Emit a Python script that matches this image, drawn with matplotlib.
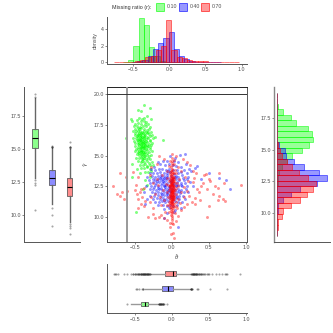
import matplotlib
matplotlib.use("Agg")
import matplotlib.pyplot as plt
from matplotlib.patches import Rectangle

plt.rcParams['font.family'] = ['Liberation Sans', 'DejaVu Sans']
plt.rcParams['mathtext.fontset'] = 'dejavusans'

W = 333
GREEN, BLUE, RED = '#00FF00', '#0000FF', '#FF0000'
TXT = '#4d4d4d'

ratio_labels = ['0.10', '0.40', '0.70']

# Scatter points (theta-hat, gamma-hat)
green_points = [
(-.37,19.14),(-.29,18.87),(-.46,18.68),(-.42,18.6),(-.55,18.0),(-.54,17.8),(-.28,17.95),(-.34,18.2),(-.62,16.45),(-.12,16.3),
(-.22,16.5),(-.54,14.3),(-.44,18.1),(-.40,18.0),(-.37,18.05),(-.47,17.9),(-.42,17.8),(-.38,17.85),(-.35,17.75),(-.49,17.6),
(-.45,17.65),(-.41,17.6),(-.36,17.55),(-.32,17.6),(-.51,17.4),(-.47,17.45),(-.43,17.35),(-.39,17.45),(-.35,17.4),(-.30,17.3),
(-.50,17.2),(-.46,17.25),(-.44,17.15),(-.41,17.22),(-.38,17.18),(-.34,17.1),(-.31,17.15),(-.52,17.0),(-.48,17.05),(-.45,16.98),
(-.43,17.02),(-.40,16.96),(-.37,17.04),(-.35,16.95),(-.32,16.9),(-.28,16.95),(-.49,16.85),(-.46,16.8),(-.44,16.88),(-.42,16.78),
(-.39,16.84),(-.37,16.76),(-.34,16.82),(-.31,16.74),(-.27,16.7),(-.50,16.65),(-.47,16.6),(-.45,16.68),(-.43,16.56),(-.41,16.64),
(-.38,16.58),(-.36,16.66),(-.33,16.54),(-.30,16.6),(-.26,16.45),(-.52,16.45),(-.48,16.4),(-.46,16.48),(-.44,16.36),(-.42,16.44),
(-.40,16.38),(-.37,16.46),(-.35,16.34),(-.32,16.42),(-.29,16.3),(-.51,16.2),(-.47,16.24),(-.45,16.14),(-.43,16.26),(-.41,16.16),
(-.39,16.22),(-.37,16.12),(-.35,16.2),(-.33,16.1),(-.30,16.18),(-.27,16.05),(-.50,16.0),(-.46,15.96),(-.44,16.04),(-.42,15.92),
(-.40,16.0),(-.38,15.94),(-.36,16.02),(-.34,15.9),(-.31,15.98),(-.28,15.88),(-.49,15.8),(-.46,15.74),(-.44,15.84),(-.42,15.72),
(-.40,15.8),(-.38,15.7),(-.36,15.82),(-.34,15.74),(-.32,15.8),(-.29,15.68),(-.48,15.58),(-.45,15.52),(-.43,15.62),(-.41,15.5),
(-.39,15.6),(-.37,15.48),(-.35,15.56),(-.33,15.46),(-.30,15.54),(-.27,15.42),(-.50,15.36),(-.46,15.3),(-.44,15.4),(-.42,15.26),
(-.40,15.36),(-.38,15.24),(-.36,15.32),(-.34,15.22),(-.31,15.3),(-.47,15.1),(-.44,15.04),(-.42,15.14),(-.40,15.0),(-.38,15.1),
(-.36,14.98),(-.34,15.08),(-.31,14.96),(-.28,15.02),(-.48,14.84),(-.44,14.78),(-.41,14.88),(-.39,14.74),(-.37,14.84),(-.35,14.72),
(-.32,14.8),(-.29,14.7),(-.46,14.56),(-.42,14.5),(-.40,14.6),(-.37,14.46),(-.34,14.54),(-.31,14.44),(-.27,14.5),(-.43,14.28),
(-.39,14.22),(-.36,14.3),(-.33,14.18),(-.30,14.24),(-.25,14.2),(-.41,14.02),(-.37,13.96),(-.34,14.04),(-.30,13.92),(-.47,13.9),
(-.36,13.7),(-.32,13.65),(-.28,13.74),(-.43,13.6),(-.54,13.3),(-.36,13.0),(-.34,12.6),(-.385,12.25),(-.30,13.3),(-.485,10.4),
(-.40,16.5),(-.42,16.1),(-.39,15.75),(-.41,15.4),(-.43,16.7),(-.38,16.3),(-.40,15.15),(-.37,15.65),(-.44,15.25),(-.41,16.85),
(-.39,16.05),(-.42,15.6),(-.36,15.9),(-.40,14.75),(-.38,16.55),(-.43,16.3),(-.41,15.85),(-.45,16.3),(-.39,15.3),(-.37,14.95),
]
blue_points = [
(.18,15.1),(.11,15.05),(.04,14.85),(-.03,14.95),(.09,14.5),(.03,14.55),(.19,14.35),(.34,14.15),(.31,14.0),(.26,13.75),
(.23,13.95),(-.07,14.6),(-.12,14.55),(-.16,14.3),(-.19,14.45),(-.24,14.1),(-.09,14.25),(-.04,14.3),(.01,14.2),(.06,14.15),
(.12,14.05),(.17,13.85),(-.28,13.9),(-.22,13.85),(-.17,13.95),(-.13,13.9),(-.08,13.85),(-.04,13.95),(.02,13.8),(.07,13.85),
(.13,13.7),(.20,13.55),(-.30,13.55),(-.25,13.6),(-.2,13.55),(-.16,13.65),(-.11,13.6),(-.07,13.55),(-.03,13.65),(.03,13.5),
(.08,13.6),(.14,13.45),(.22,13.3),(-.33,13.3),(-.27,13.35),(-.23,13.25),(-.18,13.35),(-.14,13.25),(-.1,13.35),(-.06,13.25),
(-.01,13.35),(.04,13.25),(.09,13.3),(.15,13.2),(.2,13.1),(-.31,13.05),(-.26,13.1),(-.22,13.0),(-.19,13.1),(-.15,13.0),
(-.12,13.1),(-.08,13.0),(-.04,13.1),(.0,13.0),(.05,13.08),(.1,12.98),(.16,13.02),(.24,12.85),(-.3,12.8),(-.25,12.85),
(-.21,12.75),(-.17,12.85),(-.13,12.75),(-.1,12.85),(-.06,12.75),(-.02,12.85),(.03,12.75),(.07,12.85),(.12,12.75),(.18,12.8),
(-.35,12.55),(-.28,12.55),(-.23,12.6),(-.19,12.5),(-.15,12.6),(-.11,12.5),(-.08,12.6),(-.04,12.5),(.01,12.6),(.05,12.5),
(.09,12.6),(.14,12.5),(.2,12.55),(.29,12.5),(-.3,12.25),(-.25,12.3),(-.21,12.2),(-.17,12.3),(-.13,12.2),(-.09,12.3),
(-.05,12.2),(-.01,12.3),(.04,12.2),(.08,12.3),(.13,12.22),(.19,12.3),(-.37,12.0),(-.27,12.0),(-.22,11.95),(-.18,12.05),
(-.14,11.95),(-.1,12.05),(-.06,11.95),(-.02,12.05),(.03,11.95),(.07,12.05),(.11,11.95),(.16,12.0),(.22,12.05),(-.3,11.75),
(-.24,11.7),(-.19,11.8),(-.15,11.7),(-.11,11.8),(-.07,11.7),(-.03,11.8),(.02,11.7),(.06,11.8),(.1,11.7),(.15,11.75),
(-.34,11.5),(-.26,11.5),(-.2,11.55),(-.16,11.45),(-.12,11.55),(-.08,11.45),(-.04,11.55),(.01,11.45),(.05,11.55),(.1,11.45),
(.18,11.5),(-.36,11.1),(-.22,11.25),(-.17,11.2),(-.13,11.3),(-.09,11.2),(-.05,11.3),(.0,11.2),(.04,11.3),(.09,11.2),
(.14,11.25),(-.18,10.95),(-.12,11.0),(-.07,10.9),(-.03,11.0),(.02,10.9),(.07,11.0),(.12,10.75),(-.1,10.65),(-.04,10.7),
(.04,10.6),(-.11,9.95),(.08,9.2),(-.06,10.35),(.03,10.45),(.78,12.3),(.63,13.2),(.5,13.6),(.4,13.1),(.73,13.0),
(-.11,13.15),(-.06,13.4),(-.01,12.95),(-.15,12.4),(-.1,12.65),(-.05,12.4),(.0,12.7),(-.07,12.1),(-.02,12.45),(-.12,12.95),
(-.18,12.35),(-.08,13.15),(-.03,12.15),(.02,12.35),(-.13,11.85),(-.09,12.45),(-.06,11.85),(.05,12.65),(.02,13.2),(-.16,13.15),
(-.2,12.95),(-.14,13.45),(-.05,13.75),(.06,13.35),(-.24,12.45),(.1,12.1),(.12,12.65),(-.01,11.6),(-.11,11.4),(.07,11.6),
]
red_points = [
(-.7,13.55),(-.79,12.55),(-.74,11.9),(-.67,12.05),(-.7,11.75),(-.65,11.5),(-.6,12.15),(-.62,13.3),(-.52,13.7),(-.48,12.6),
(-.46,13.25),(-.42,12.3),(-.5,12.2),(-.38,12.4),(-.43,12.0),(-.47,11.85),(-.4,11.6),(-.45,11.5),(-.36,11.3),(-.42,11.1),
(-.38,10.9),(-.45,10.7),(-.28,11.6),(-.3,11.2),(-.26,10.7),(-.25,10.25),(-.32,10.0),(-.17,10.0),(-.14,10.2),(-.09,10.45),
(-.22,9.9),(-.06,9.75),(-.1,9.9),(-.03,9.55),(-.02,9.15),(.02,8.7),(.03,8.3),(-.01,8.6),(.02,9.4),(.05,9.7),
(.08,10.1),(.13,10.55),(.16,10.8),(.21,11.05),(.27,11.2),(.31,11.05),(.38,11.35),(.48,10.0),(.5,10.9),(.62,11.35),
(.72,11.3),(.69,11.45),(.64,11.7),(.55,11.9),(.47,12.25),(.93,12.6),(.71,12.75),(.62,12.35),(.58,12.5),(.52,12.95),
(.5,13.1),(.46,13.5),(.63,13.6),(.43,13.4),(.42,12.75),(.39,12.5),(.36,12.0),(.31,11.55),(.34,12.25),(.28,12.85),
(.3,13.2),(.33,13.55),(.28,13.75),(.24,14.2),(.21,14.45),(.15,14.7),(.06,15.0),(.03,14.65),(-.1,14.75),(-.17,15.0),
(-.2,14.3),(-.28,14.1),(-.3,13.4),(-.2,13.1),(-.26,12.8),(-.18,12.6),(-.22,11.85),(-.16,11.6),(-.14,11.0),(-.1,11.35),
(-.06,10.95),(-.12,12.2),(-.08,12.7),(-.13,13.4),(-.07,13.75),(-.04,14.15),(-.02,14.55),(.08,14.1),(.13,13.75),(.18,13.3),
(.22,12.9),(.16,12.45),(.2,12.1),(.12,12.0),(.17,11.6),(.11,11.15),(.23,11.75),(.08,11.5),(.07,12.8),(.1,13.1),
(.06,13.55),(.05,12.35),(.09,12.55),(.06,11.85),(.05,10.9),(.04,10.35),(-.04,10.4),(.07,10.7),(-.05,11.6),(-.07,12.05),
(-.05,12.6),(-.06,13.15),(-.03,13.5),(.04,13.85),(.03,14.3),(.05,11.2),(-.04,11.25),(-.03,12.35),(.04,12.75),(-.04,12.95),
(.0,15.1),(.0,14.8),(.004,14.6),(-.004,14.4),(.006,14.25),(-.006,14.1),(.0,13.95),(.008,13.85),(-.008,13.75),(.002,13.65),
(.01,13.55),(-.01,13.45),(.0,13.38),(.012,13.3),(-.012,13.22),(.004,13.15),(.014,13.08),(-.014,13.0),(.0,12.93),(.016,12.86),
(-.016,12.8),(.006,12.74),(-.006,12.68),(.018,12.62),(-.018,12.56),(.0,12.5),(.012,12.44),(-.012,12.38),(.02,12.33),(-.02,12.27),
(.004,12.22),(-.004,12.16),(.016,12.1),(-.016,12.05),(.008,12.0),(-.008,11.94),(.02,11.88),(-.02,11.83),(.0,11.78),(.012,11.72),
(-.012,11.67),(.018,11.62),(-.018,11.56),(.004,11.5),(-.004,11.44),(.014,11.38),(-.014,11.32),(.008,11.26),(-.008,11.2),(.016,11.13),
(-.016,11.06),(.0,11.0),(.012,10.92),(-.012,10.84),(.006,10.76),(-.006,10.68),(.01,10.6),(-.01,10.5),(.0,10.4),(.008,10.3),
(-.008,10.18),(.004,10.05),(-.004,9.9),(.006,9.72),(.0,9.5),(.03,13.1),(-.03,13.05),(.03,12.5),(-.03,12.65),(.03,12.0),
(-.03,11.9),(.03,11.45),(-.03,11.4),(.03,10.85),(-.03,10.8),(.035,13.3),(-.035,12.2),(.035,11.7),(-.035,11.0),(.04,12.2),
(.025,12.3),(-.025,12.5),(.025,12.9),(-.025,11.7),(.025,11.6),(-.025,13.3),(.025,11.1),(-.025,11.15),(.025,13.6),(-.025,13.7),
(.0,12.05),(.0,12.3),(.0,12.65),(.0,11.9),(.0,11.6),(.0,11.3),(.0,12.8),(.0,13.1),(.0,11.1),(.0,13.5),
(.01,12.2),(-.01,12.1),(.01,11.85),(-.01,11.75),(.01,12.55),(-.01,12.6),(.01,11.45),(-.01,11.5),(.01,12.9),(-.01,12.85),
]

# Histograms (density per bin)
top_green = [.02,.3,2.0,5.4,4.5,1.8,.8,.2,.06,.02,.01]
top_blue = [.08,.12,.25,.8,1.6,2.3,3.0,3.65,1.6,.75,.4,.2,.1,.06,.03,.03,.02]
top_red = [.02,.02,.04,.08,.2,.3,.7,.8,1.5,2.0,5.15,1.55,.65,.5,.3,.2,.13,.2,.08,.08,.02,.02,.02,.02]
top_starts = [-.640, -.516, -.765]
top_width = .0723

right_green = [0,0,0,0,0,.004,0,0,0,.01,.02,.03,.06,.12,.18,.3,.38,.43,.415,.37,.225,.165,.07,.012,.004,0]
right_blue = [0,0,0,.004,.01,.02,.07,.165,.27,.48,.6,.5,.32,.2,.11,.1,.025,.004,0,0,0,0,0,0,0,0]
right_red = [.004,.01,.02,.06,.07,.17,.28,.36,.435,.465,.37,.26,.18,.12,.06,.04,.012,.004,.004,.004,.004,.004,.004,.004,.004,.004]
right_start = 8.23
right_width = .432

# Boxplot summaries
box_y = [
 dict(q1=15.05, med=15.82, q3=16.52, whislo=12.8, whishi=18.8, fliers=[19.1,18.9,12.65,12.4,12.3,10.4]),
 dict(q1=12.25, med=12.8, q3=13.4, whislo=10.85, whishi=15.05, fliers=[15.15,15.1,15.12,15.18,10.5,9.98,9.2]),
 dict(q1=11.43, med=12.15, q3=12.8, whislo=9.5, whishi=15.0, fliers=[15.05,15.1,15.12,15.15,15.5,9.3,9.2,9.0,8.55]),
]
box_x = [
 dict(q1=-.41, med=-.36, q3=-.317, whislo=-.545, whishi=-.18,
      fliers=[-.605,-.178,-.175,-.17,-.165,-.16,-.155,-.15,-.145,-.14,-.135,-.13,-.125,-.12,-.115,-.11,-.06]),
 dict(q1=-.134, med=-.05, q3=.022, whislo=-.36, whishi=.25,
      fliers=[-.48,-.47,-.44,-.40,-.39,-.385,.255,.26,.262,.265,.268,.27,.34,.35,.52,.75]),
 dict(q1=-.09, med=.01, q3=.058, whislo=-.285, whishi=.26,
      fliers=[-.78,-.76,-.75,-.72,-.64,-.6,-.55,-.53,-.52,-.5,-.49,-.48,-.47,-.46,-.45,-.445,-.44,-.43,-.42,-.415,-.41,-.405,-.4,-.395,
              -.39,-.385,-.38,-.375,-.37,-.365,-.36,-.355,-.35,-.345,-.34,-.335,-.33,-.325,-.32,-.315,-.31,-.305,-.3,-.295,
              .265,.27,.275,.28,.285,.29,.295,.3,.305,.31,.315,.32,.325,.33,.335,.34,.35,.36,.37,.38,.39,.4,.41,.42,.44,.45,.47,.49,.5,.54,.6,.63,.68,.72,.73,.74,.92]),
]


def make_axes(fig, left, top, right, bottom):
    return fig.add_axes([left / W, 1 - bottom / W, (right - left) / W, (bottom - top) / W])


def style(ax, sides=('left', 'bottom')):
    for s, sp in ax.spines.items():
        sp.set_visible(s in sides)
        sp.set_color('#555555')
        sp.set_linewidth(.7)
    ax.tick_params(length=1.5, width=.4, color='#333333', labelsize=3.8, labelcolor=TXT, pad=1)


def boxes(ax, stats, vert, whisker_color):
    colors = [GREEN, BLUE, RED]
    art = ax.bxp(stats, positions=[0, 1, 2], widths=.32, vert=vert, patch_artist=True, showcaps=False,
                 medianprops=dict(color='black', lw=.8),
                 boxprops=dict(edgecolor='#444444', lw=.5),
                 whiskerprops=dict(color=whisker_color, lw=1.0),
                 flierprops=dict(marker='o', ms=1.5, mfc='#222222', mec='none', alpha=.4),
                 manage_ticks=False)
    for p, c in zip(art['boxes'], colors):
        p.set_facecolor(matplotlib.colors.to_rgba(c, .45))


fig = plt.figure(figsize=(W / 100, W / 100), dpi=100)

# Main scatter
ax = make_axes(fig, 107.3, 87.3, 246.7, 241.7)
for pts, c, a in zip([green_points, blue_points, red_points], [GREEN, BLUE, RED], [.5, .42, .42]):
    ax.scatter([p[0] for p in pts], [p[1] for p in pts], s=4.6, c=c, alpha=a, linewidths=0, zorder=2)
ax.axvline(-.607, color='#999999', lw=1.4, zorder=3)
ax.axhline(20, color='#333333', lw=.7, zorder=3)
ax.set_xlim(-.87, 1.01)
ax.set_ylim(7.99, 20.57)
style(ax, ('left', 'bottom', 'right', 'top'))
ax.spines['top'].set_color('#222222')
ax.set_xticks([-.5, 0, .5, 1])
ax.set_xticklabels(['−0.5', '0.0', '0.5', '1.0'])
ax.set_yticks([10, 12.5, 15, 17.5, 20])
ax.set_yticklabels(['10.0', '12.5', '15.0', '17.5', '20.0'])
ax.set_xlabel(r'$\hat{\theta}$', fontsize=4, color=TXT, labelpad=1.5)
ax.set_ylabel(r'$\hat{\gamma}$', fontsize=4, color=TXT, labelpad=1.5)

# Top histogram
ax = make_axes(fig, 107.3, 16.7, 246.7, 64)
for vals, start, c in zip([top_green, top_blue, top_red], top_starts, [GREEN, BLUE, RED]):
    xs = [start + i * top_width for i in range(len(vals))]
    ax.bar(xs, vals, width=top_width, align='edge', facecolor=matplotlib.colors.to_rgba(c, .4),
           edgecolor=matplotlib.colors.to_rgba(c, .6), lw=.6)
ax.set_xlim(-.856, 1.07)
ax.set_ylim(-.2, 5.53)
style(ax)
ax.set_xticks([-.5, 0, .5, 1])
ax.set_xticklabels(['−0.5', '0.0', '0.5', '1.0'])
ax.set_yticks([0, 2, 4])
ax.set_ylabel('density', fontsize=3.8, color=TXT, labelpad=2)

# Right histogram
ax = make_axes(fig, 274.3, 86.7, 330, 242.3)
for vals, c in zip([right_green, right_blue, right_red], [GREEN, BLUE, RED]):
    ys = [right_start + i * right_width for i in range(len(vals))]
    ax.barh(ys, vals, height=right_width, align='edge', facecolor=matplotlib.colors.to_rgba(c, .4),
            edgecolor=matplotlib.colors.to_rgba(c, .6), lw=.6)
ax.set_xlim(-.028, .63)
ax.set_ylim(7.73, 19.92)
style(ax)
ax.spines['left'].set_color('#888888')
ax.spines['left'].set_linewidth(1)
ax.set_xticks([])
ax.set_yticks([10, 12.5, 15, 17.5])
ax.set_yticklabels(['10.0', '12.5', '15.0', '17.5'])

# Left boxplot
ax = make_axes(fig, 24.3, 86.7, 80, 242.3)
boxes(ax, box_y, True, '#666666')
ax.set_xlim(-.6, 2.59)
ax.set_ylim(7.95, 19.68)
style(ax)
ax.set_xticks([])
ax.set_yticks([10, 12.5, 15, 17.5])
ax.set_yticklabels(['10.0', '12.5', '15.0', '17.5'])

# Bottom boxplot
ax = make_axes(fig, 107.3, 264.3, 246.7, 313.3)
boxes(ax, box_x, False, '#999999')
ax.set_xlim(-.87, 1.01)
ax.set_ylim(-.62, 2.63)
style(ax)
ax.set_yticks([])
ax.set_xticks([-.5, 0, .5, 1])
ax.set_xticklabels(['−0.5', '0.0', '0.5', '1.0'])

# Legend
fig.text(112 / W, 1 - 7 / W, 'Missing ratio (r):', fontsize=3.9, color='#333333', va='center')
for lab, c, sx, tx in zip(ratio_labels, [GREEN, BLUE, RED], [156.3, 178.5, 201], [167, 189.5, 212]):
    fig.add_artist(Rectangle((sx / W, 1 - 10.7 / W), 8 / W, 7.6 / W, transform=fig.transFigure,
                             facecolor=matplotlib.colors.to_rgba(c, .4),
                             edgecolor=matplotlib.colors.to_rgba(c, .7), lw=.6))
    fig.text(tx / W, 1 - 7 / W, lab, fontsize=3.8, color=TXT, va='center')

fig.savefig('out.png', dpi=100)
